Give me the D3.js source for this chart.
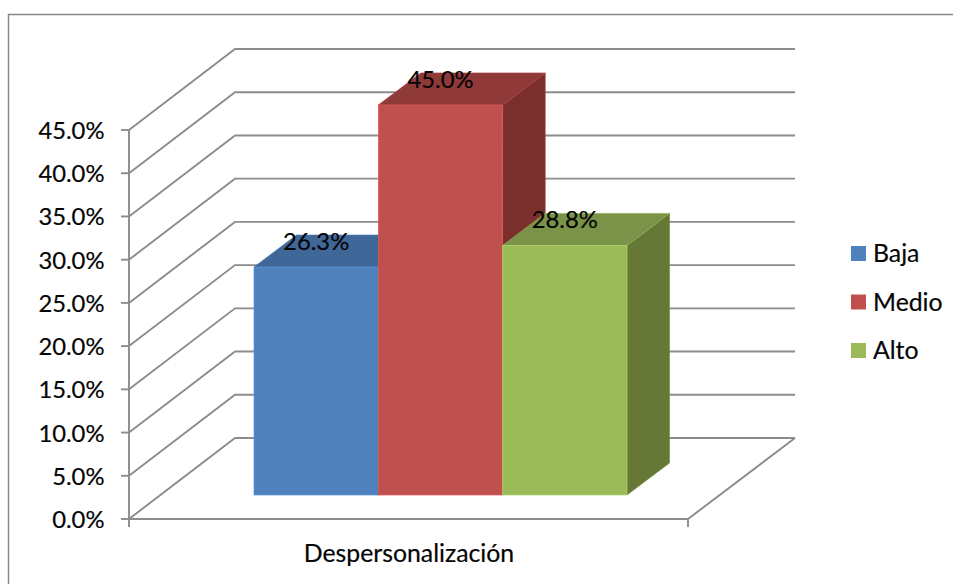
<!DOCTYPE html>
<html><head><meta charset="utf-8">
<script src="https://cdn.jsdelivr.net/npm/d3@7"></script>
<style>html,body{margin:0;padding:0;background:#fff}svg{display:block}text{font-family:Lato,Carlito,sans-serif;fill:#050505;stroke:#050505;stroke-width:0.2}</style>
</head><body><svg id="c" width="953" height="584"></svg>
<script>
const categories = ["Despersonalización"];
const seriesNames = ["Baja", "Medio", "Alto"];
const seriesValues = [26.3, 45.0, 28.8];
const tickValues = [0, 5, 10, 15, 20, 25, 30, 35, 40, 45];
const frontColors = ["#4F81BD", "#C0504D", "#9BBB59"];
const topColors = ["#3F6797", "#8F3A38", "#7A9348"];
const sideColors = ["#355680", "#7B2F2D", "#657835"];

const svg = d3.select("#c");
const gridColor = "#8C8C8C";
const numberSize = 23.8;
const wordSize = 24.8;

// chart frame
svg.append("path").attr("d","M8.5,584V14.5H953").attr("fill","none").attr("stroke","#868686").attr("stroke-width",1.5);

// wall and floor geometry
const y = d3.scaleLinear().domain([0,45]).range([519,130]);
const x0 = 129, x1 = 688, wallDx = 106, wallDy = -81;

const grid = svg.append("g").attr("fill","none").attr("stroke",gridColor).attr("stroke-width",1.9);
tickValues.forEach(v => {
  const yy = y(v);
  grid.append("path").attr("d", d3.line()([[x0,yy],[x0+wallDx,yy+wallDy],[795,yy+wallDy]]));
  grid.append("line").attr("x1",x0-8).attr("x2",x0).attr("y1",yy).attr("y2",yy);
});
grid.append("line").attr("x1",x0).attr("x2",x0).attr("y1",y(45)).attr("y2",527);
grid.append("path").attr("d", d3.line()([[x0,y(0)],[x1,y(0)],[x1+wallDx+1,y(0)+wallDy]]));
grid.append("line").attr("x1",x1).attr("x2",x1).attr("y1",y(0)).attr("y2",527);

// tick labels
svg.append("g").selectAll("text").data(tickValues).join("text")
  .attr("x",104.5).attr("y",v=>y(v)+9).attr("text-anchor","end")
  .attr("font-size",numberSize).text(v=>d3.format(".1f")(v)+"%");

// bars
const band = d3.scaleBand().domain(seriesNames).range([254,627]);
const h = d3.scaleLinear().domain([0,45]).range([0,390]);
const base = 495, dx = 42.5, dy = -32;
seriesNames.forEach((s,i) => {
  const v = seriesValues[i], xa = band(s), xb = xa + band.bandwidth(), t = base - h(v);
  const g = svg.append("g").attr("stroke-width",0.7);
  g.append("path").attr("d", d3.line()([[xb,base],[xb+dx,base+dy],[xb+dx,t+dy],[xb,t]])+"Z")
    .attr("fill",sideColors[i]).attr("stroke",d3.color(sideColors[i]).brighter(0.5));
  g.append("path").attr("d", d3.line()([[xa,t],[xa+dx,t+dy],[xb+dx,t+dy],[xb,t]])+"Z")
    .attr("fill",topColors[i]).attr("stroke",d3.color(topColors[i]).brighter(0.5));
  g.append("rect").attr("x",xa).attr("y",t).attr("width",xb-xa).attr("height",h(v))
    .attr("fill",frontColors[i]).attr("stroke",d3.color(frontColors[i]).brighter(0.4));
});

// data labels
svg.append("g").selectAll("text").data(seriesValues).join("text")
  .attr("x",(v,i)=>band(seriesNames[i])+band.bandwidth()/2)
  .attr("y",v=>base-h(v)-17).attr("text-anchor","middle")
  .attr("font-size",numberSize).text(v=>d3.format(".1f")(v)+"%");

// category label
svg.append("text").attr("x",409).attr("y",562).attr("text-anchor","middle")
  .attr("font-size",wordSize).text(categories[0]);

// legend
const legendY = d3.scalePoint().domain(seriesNames).range([253.5,350.5]);
seriesNames.forEach((s,i)=>{
  svg.append("rect").attr("x",851).attr("y",legendY(s)-7.5).attr("width",15).attr("height",15).attr("fill",frontColors[i]);
  svg.append("text").attr("x",873).attr("y",legendY(s)+8.5).attr("font-size",wordSize).text(s);
});
</script></body></html>
